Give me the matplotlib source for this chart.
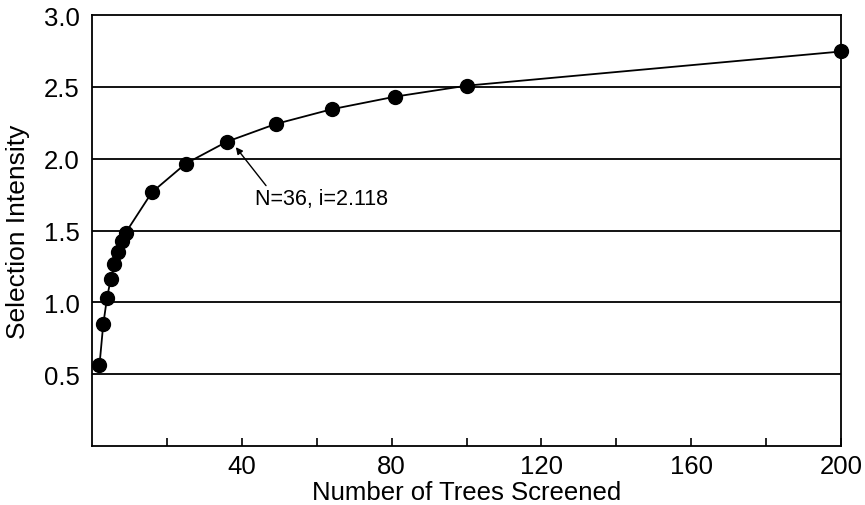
import matplotlib.pyplot as plt

plt.rcParams['font.family'] = ['Liberation Sans', 'DejaVu Sans']

trees = [2, 3, 4, 5, 6, 7, 8, 9, 16, 25, 36, 49, 64, 81, 100, 200]
intensity = [0.564, 0.846, 1.029, 1.163, 1.267, 1.352, 1.424, 1.485,
             1.766, 1.965, 2.118, 2.241, 2.344, 2.432, 2.508, 2.746]
xlabels = [40, 80, 120, 160, 200]
ylabels = [0.5, 1.0, 1.5, 2.0, 2.5, 3.0]

fig = plt.figure(figsize=(8.65, 5.06), dpi=100)
ax = fig.add_axes([92 / 865, 1 - 447 / 506, (841 - 92) / 865, (447 - 16) / 506])

for y in ylabels[:-1]:
    ax.axhline(y, color='black', lw=1.3, zorder=1)

ax.plot(trees, intensity, color='black', lw=1.3, marker='o', ms=10, zorder=3,
        clip_on=False)

ax.annotate('N=36, i=2.118', xy=(38.4, 2.08), xytext=(43.5, 1.72),
            fontsize=15.5, va='center', ha='left',
            arrowprops=dict(arrowstyle='-|>', color='black', lw=1.0,
                            shrinkA=0, shrinkB=0, mutation_scale=10,
                            relpos=(0.1, 1.0)))

ax.set_xlim(0, 200)
ax.set_ylim(0, 3.0)
ax.set_xticks(range(20, 201, 20))
ax.set_xticklabels([str(v) if v in xlabels else '' for v in range(20, 201, 20)])
ax.set_yticks(ylabels)
ax.set_yticklabels(['%.1f' % v for v in ylabels])
ax.tick_params(axis='x', direction='in', length=6, width=1.2, pad=6, labelsize=18.5)
ax.tick_params(axis='y', length=0, pad=9, labelsize=18.5)
for s in ax.spines.values():
    s.set_linewidth(1.3)

ax.set_xlabel('Number of Trees Screened', fontsize=18.5, labelpad=1)
ax.set_ylabel('Selection Intensity', fontsize=19, labelpad=10)

fig.savefig('out.png', dpi=100)
